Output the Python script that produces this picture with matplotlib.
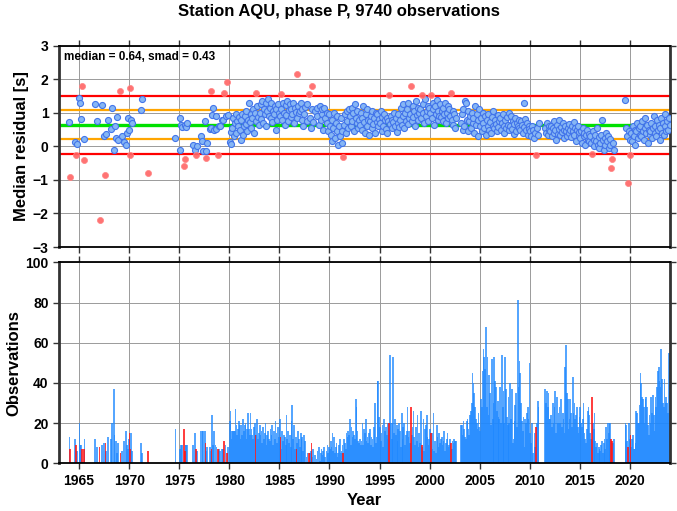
import numpy as np
import matplotlib
matplotlib.use('Agg')
import matplotlib.pyplot as plt

N = None
FIRST_YEAR = 1964
MEDIAN = 0.64
SMAD = 0.43
STATION = 'AQU'
PHASE = 'P'
N_OBS = 9740

# observations per month, one row per year from 1964
counts = [
    [13, 7, 0, 0, 0, 0, 0, 12, 9, 6, 0, 0],
    [20, 9, 9, 7, 0, 7, 12, 0, 0, 0, 0, 0],
    [0, 0, 0, 0, 0, 0, 0, 12, 0, 8, 0, 0],
    [8, 0, 0, 9, 0, 10, 0, 10, 6, 0, 13, 0],
    [0, 0, 12, 20, 0, 37, 14, 0, 11, 5, 10, 0],
    [0, 5, 0, 6, 0, 11, 0, 0, 16, 9, 7, 12],
    [15, 7, 15, 6, 0, 0, 0, 0, 0, 0, 0, 0],
    [0, 0, 10, 5, 0, 0, 0, 0, 0, 0, 6, 0],
    [0, 0, 0, 0, 0, 0, 0, 0, 0, 0, 0, 0],
    [0, 0, 0, 0, 0, 0, 0, 0, 0, 0, 0, 0],
    [0, 0, 0, 0, 0, 0, 0, 17, 0, 0, 0, 0],
    [7, 7, 9, 9, 0, 17, 6, 9, 9, 9, 0, 0],
    [0, 0, 0, 0, 9, 0, 15, 0, 7, 6, 0, 0],
    [0, 16, 0, 16, 16, 0, 16, 10, 6, 8, 0, 0],
    [8, 6, 7, 24, 9, 16, 0, 9, 8, 0, 7, 7],
    [6, 0, 0, 7, 7, 11, 0, 9, 0, 5, 8, 0],
    [21, 26, 12, 16, 16, 16, 16, 27, 19, 14, 17, 21],
    [19, 12, 19, 14, 22, 16, 19, 20, 12, 17, 25, 17],
    [14, 25, 17, 14, 12, 18, 20, 14, 14, 22, 12, 15],
    [19, 14, 16, 10, 18, 12, 15, 20, 9, 14, 16, 12],
    [11, 17, 14, 19, 9, 16, 12, 21, 15, 10, 18, 13],
    [22, 13, 7, 16, 11, 14, 13, 9, 24, 12, 16, 10],
    [14, 8, 21, 29, 12, 19, 7, 13, 7, 10, 16, 12],
    [8, 15, 12, 13, 6, 14, 11, 0, 3, 5, 0, 5],
    [5, 6, 10, 3, 7, 0, 4, 0, 2, 6, 0, 8],
    [1, 5, 7, 4, 6, 8, 3, 0, 6, 9, 5, 8],
    [7, 11, 8, 15, 6, 13, 5, 8, 10, 3, 5, 9],
    [12, 5, 6, 9, 5, 12, 10, 7, 15, 13, 16, 14],
    [22, 9, 18, 13, 16, 14, 12, 32, 28, 16, 11, 10],
    [12, 9, 11, 20, 9, 17, 15, 22, 11, 13, 10, 15],
    [17, 9, 13, 12, 8, 18, 30, 10, 13, 41, 41, 23],
    [18, 11, 15, 19, 8, 22, 16, 18, 14, 12, 20, 20],
    [54, 20, 12, 20, 53, 15, 22, 14, 19, 11, 17, 20],
    [16, 8, 25, 12, 18, 20, 9, 14, 16, 28, 13, 16],
    [10, 28, 14, 18, 26, 13, 9, 18, 11, 24, 8, 15],
    [10, 26, 9, 8, 22, 6, 17, 19, 24, 13, 9, 12],
    [17, 15, 15, 7, 25, 6, 11, 5, 19, 13, 8, 15],
    [10, 12, 13, 9, 11, 16, 6, 10, 12, 15, 8, 9],
    [12, 10, 7, 11, 10, 12, 11, 11, 0, 0, 0, 0],
    [0, 19, 19, 14, 21, 17, 13, 12, 21, 22, 17, 14],
    [24, 26, 30, 45, 40, 35, 28, 22, 20, 17, 25, 18],
    [16, 32, 28, 46, 57, 53, 47, 68, 28, 53, 24, 44],
    [35, 19, 52, 22, 30, 53, 41, 38, 26, 31, 23, 22],
    [38, 20, 54, 28, 36, 20, 53, 37, 23, 19, 33, 20],
    [40, 22, 37, 10, 12, 21, 29, 35, 18, 81, 38, 51],
    [45, 30, 21, 16, 23, 8, 22, 20, 25, 28, 22, 50],
    [15, 10, 20, 5, 0, 15, 8, 18, 20, 31, 28, 0],
    [0, 0, 0, 0, 0, 0, 37, 30, 36, 28, 35, 22],
    [22, 24, 18, 30, 20, 28, 36, 15, 33, 20, 25, 28],
    [20, 32, 18, 25, 22, 15, 48, 59, 35, 32, 17, 22],
    [32, 25, 18, 43, 25, 30, 22, 24, 28, 18, 15, 23],
    [28, 20, 18, 22, 30, 15, 12, 10, 17, 26, 28, 24],
    [15, 12, 33, 20, 17, 25, 11, 8, 10, 5, 8, 7],
    [6, 9, 11, 5, 10, 12, 7, 18, 12, 20, 15, 20],
    [20, 12, 11, 10, 12, 0, 0, 0, 0, 0, 0, 0],
    [0, 0, 0, 0, 0, 0, 20, 19, 11, 8, 20, 12],
    [14, 8, 12, 14, 7, 7, 10, 26, 25, 20, 20, 29],
    [45, 40, 33, 32, 28, 20, 32, 33, 28, 19, 14, 24],
    [20, 33, 25, 34, 24, 16, 33, 28, 38, 46, 48, 41],
    [38, 57, 42, 30, 28, 42, 30, 33, 30, 25, 55, 52],
]

# monthly median residuals [s], None where there is no data
residuals = [
    [0.73, -0.90, N, N, N, N, N, 0.14, -0.25, 0.06, N, N],
    [1.44, 1.28, 0.81, 1.80, N, -0.41, 0.23, N, N, N, N, N],
    [N, N, N, N, N, N, N, 1.26, N, 0.76, N, N],
    [-2.19, N, N, 1.22, N, 0.30, N, -0.85, 0.36, N, 0.80, N],
    [N, N, 0.52, 1.14, N, -0.12, 0.62, N, 0.25, 0.88, 0.20, N],
    [N, 1.64, N, 0.30, N, 0.12, N, N, 0.05, 0.40, 0.84, 0.50],
    [1.75, -0.25, 0.80, 0.70, N, N, N, N, N, N, N, N],
    [N, N, 1.07, 1.40, N, N, N, N, N, N, -0.78, N],
    [N, N, N, N, N, N, N, N, N, N, N, N],
    [N, N, N, N, N, N, N, N, N, N, N, N],
    [N, N, N, N, N, N, N, 0.26, N, N, N, N],
    [-0.12, 0.83, 0.65, 0.57, N, -0.59, -0.38, 0.63, 0.58, 0.70, N, N],
    [N, N, N, N, 0.05, N, -0.10, N, -0.25, 0.00, N, N],
    [N, 0.30, N, 0.17, -0.13, N, 0.77, -0.36, -0.14, 0.10, N, N],
    [0.51, 0.55, 1.64, 0.93, 1.15, 0.48, N, 0.52, 0.90, N, -0.25, 0.62],
    [0.60, N, N, 0.80, 0.78, 1.60, N, 0.90, N, 1.92, 0.92, N],
    [0.13, 0.42, 0.06, 0.55, 0.85, 0.30, 0.70, 0.95, 0.40, 0.75, 0.62, 0.88],
    [0.50, 0.20, 0.78, 0.95, 0.35, 0.62, 0.90, 0.68, 1.05, 0.45, 0.80, 1.30],
    [0.72, 0.95, 0.55, 0.85, 1.10, 0.40, 0.98, 1.58, 0.75, 1.20, 0.88, 0.65],
    [1.00, 1.25, 0.82, 1.35, 0.70, 1.10, 0.95, 1.28, 0.60, 1.05, 1.40, 0.90],
    [1.15, 0.85, 1.30, 0.72, 1.05, 0.95, 1.20, 0.50, 1.10, 0.80, 1.25, 0.98],
    [0.90, 1.56, 1.12, 0.78, 1.30, 1.00, 0.65, 1.22, 0.92, 1.35, 0.75, 1.08],
    [1.25, 0.88, 1.10, 0.95, 1.28, 0.70, 1.15, 1.02, 2.16, 0.85, 1.20, 0.98],
    [1.05, 1.30, 0.80, 1.12, 0.60, 0.95, 1.18, N, 0.75, 1.25, N, 1.55],
    [0.85, 0.55, 1.81, 1.10, 0.72, N, 1.05, N, 0.90, 1.15, N, 0.65],
    [1.20, 0.78, 0.95, 1.10, 0.50, 1.15, 0.85, N, 1.00, 0.70, 0.45, 0.95],
    [0.60, 0.35, 0.80, 0.15, 0.55, 1.00, 0.25, 0.70, 0.45, 0.90, 0.05, 0.62],
    [0.30, 0.85, 0.45, 0.10, -0.32, 0.65, 0.95, 0.40, 1.05, 0.75, 0.55, 1.10],
    [0.90, 0.60, 1.15, 0.75, 0.98, 0.45, 1.25, 0.85, 0.70, 1.05, 0.55, 0.80],
    [0.65, 1.00, 0.50, 0.85, 1.20, 0.72, 0.40, 0.95, 0.60, 1.10, 0.80, 0.35],
    [0.75, 0.90, 0.55, 1.05, 0.68, 0.85, 0.40, 1.00, 0.72, 0.95, 0.60, 0.82],
    [0.70, 1.05, 0.45, 0.88, 0.62, 0.95, 0.78, 0.52, 0.85, 0.40, 0.75, 1.52],
    [0.68, 0.90, 0.55, 0.80, 0.72, 1.00, 0.60, 0.85, 0.42, 0.95, 0.70, 0.58],
    [0.80, 1.15, 0.65, 0.90, 1.25, 0.55, 0.98, 0.75, 1.10, 0.68, 1.30, 0.85],
    [0.95, 1.80, 0.75, 1.20, 0.88, 1.05, 0.60, 1.35, 0.92, 1.15, 0.80, 1.00],
    [1.10, 0.85, 1.52, 0.98, 1.25, 0.70, 1.40, 0.90, 1.05, 1.20, 0.75, 1.15],
    [1.00, 1.52, 0.85, 1.30, 1.10, 0.65, 1.20, 0.95, 1.38, 0.80, 1.05, 0.90],
    [1.25, 0.88, 1.05, 0.75, 1.15, 0.95, 1.30, 0.70, 1.00, 1.20, 0.85, 1.10],
    [0.90, 1.58, 0.80, 1.05, 0.65, 0.95, 0.55, 0.85, N, N, N, N],
    [N, 0.70, 0.95, 0.50, 1.10, 0.60, 1.35, 1.30, 0.80, 0.45, 1.05, 0.75],
    [0.90, 0.55, 1.00, 0.70, 0.85, 0.40, 1.20, 0.65, 0.95, 0.30, 0.80, 1.10],
    [0.60, 0.85, 0.45, 1.00, 0.70, 0.55, 0.90, 0.35, 0.78, 0.62, 0.95, 0.50],
    [0.72, 0.40, 0.88, 0.60, 1.05, 0.55, 0.80, 0.68, 0.45, 0.92, 0.58, 0.75],
    [0.85, 0.50, 0.70, 0.95, 0.62, 0.40, 0.78, 0.55, 0.88, 0.65, 1.00, 0.48],
    [0.60, 0.90, 0.52, 0.75, 0.38, 0.68, 0.85, 0.45, 0.70, 0.62, 0.55, 0.80],
    [0.50, 0.75, 0.65, 0.40, 1.30, 0.58, 0.82, 0.48, 0.70, 0.35, 0.60, 0.52],
    [0.45, 0.30, 0.62, 0.50, N, 0.25, 0.40, -0.25, 0.55, 0.35, 0.70, N],
    [N, N, N, N, N, N, 0.55, 0.40, 0.70, 0.35, 0.60, 0.48],
    [0.45, 0.62, 0.30, 0.55, 0.75, 0.40, 0.50, 0.20, 0.65, 0.38, 0.52, 0.80],
    [0.35, 0.58, 0.42, 0.70, 0.25, 0.50, 0.62, 0.45, 0.30, 0.55, 0.68, 0.40],
    [0.50, 0.28, 0.60, 0.45, 0.72, 0.35, 0.55, 0.15, 0.48, 0.62, 0.30, 0.42],
    [0.25, 0.45, 0.10, 0.55, 0.30, 0.40, 0.05, 0.35, 0.50, 0.20, 0.38, 0.15],
    [0.30, 0.10, -0.24, 0.45, 0.20, 0.00, 0.35, 0.15, 0.55, 0.05, 0.28, -0.05],
    [0.10, 0.35, 0.80, 0.20, -0.10, 0.25, 0.05, 0.40, 0.15, 0.30, -0.05, 0.22],
    [0.05, -0.65, -0.39, 0.10, -0.12, N, N, N, N, N, N, N],
    [N, N, N, N, N, N, 1.39, 0.55, 0.30, -1.10, 0.45, 0.20],
    [-0.27, 0.40, 0.15, 0.60, 0.30, 0.50, 0.05, 0.45, 0.70, 0.25, 0.55, 0.35],
    [0.60, 0.30, 0.75, 0.45, 0.20, 0.55, 0.85, 0.40, 0.65, 0.10, 0.50, 0.35],
    [0.45, 0.70, 0.25, 0.55, 0.90, 0.40, 0.60, 0.30, 0.80, 0.50, 0.65, 0.20],
    [0.55, 0.85, 0.40, 0.70, 0.35, 0.95, 0.60, 0.45, 0.75, 0.50, 0.85, 0.65],
]

plt.rcParams['font.family'] = ['Liberation Sans', 'DejaVu Sans']
plt.rcParams['font.weight'] = 'bold'

lo = MEDIAN - 2 * SMAD
hi = MEDIAN + 2 * SMAD

# flatten to monthly arrays
t, n, r = [], [], []
for i, (row_n, row_r) in enumerate(zip(counts, residuals)):
    for m in range(12):
        if row_n[m] > 0 or row_r[m] is not None:
            t.append(FIRST_YEAR + i + (m + 0.5) / 12)
            n.append(row_n[m])
            r.append(np.nan if row_r[m] is None else row_r[m])
t = np.array(t)
n = np.array(n)
r = np.array(r)
bad = (r < lo) | (r > hi)

fig = plt.figure(figsize=(6.77, 5.11), dpi=100)
ax1 = fig.add_axes([0.0872, 0.5166, 0.9025, 0.394])
ax2 = fig.add_axes([0.0872, 0.0933, 0.9025, 0.3934])

fig.suptitle(f'Station {STATION}, phase {PHASE}, {N_OBS} observations',
             fontsize=12, fontweight='bold', y=0.993)

# residuals
ax1.axhline(MEDIAN, color='#00e000', lw=2.4, zorder=2)
ax1.axhline(MEDIAN + SMAD, color='orange', lw=1.6, zorder=2)
ax1.axhline(MEDIAN - SMAD, color='orange', lw=1.6, zorder=2)
ax1.axhline(hi, color='red', lw=1.6, zorder=2)
ax1.axhline(lo, color='red', lw=1.6, zorder=2)
ok = ~bad & ~np.isnan(r)
ax1.scatter(t[ok], r[ok], s=19, facecolor='#86b6f4', edgecolor='#4274ea',
            linewidth=0.8, zorder=3)
ax1.scatter(t[bad], r[bad], s=19, facecolor='#ff6464', edgecolor='#ff8484',
            linewidth=0.6, alpha=0.9, zorder=3)
ax1.set_ylim(-3, 3)
ax1.set_yticks(range(-3, 4))
ax1.set_ylabel('Median residual [s]', fontsize=12, fontweight='bold', labelpad=3)
ax1.text(0.008, 0.975, f'median = {MEDIAN:.2f}, smad = {SMAD:.2f}',
         transform=ax1.transAxes, ha='left', va='top', fontsize=8.5, fontweight='bold')

# observation counts
ax2.bar(t[~bad], n[~bad], width=0.17, color='#1e88ff', alpha=0.75, linewidth=0, zorder=2)
ax2.bar(t[bad], n[bad], width=0.17, color='#ff1010', alpha=0.8, linewidth=0, zorder=2)
ax2.set_ylim(0, 100)
ax2.set_yticks(range(0, 101, 20))
ax2.set_ylabel('Observations', fontsize=12, fontweight='bold', labelpad=3)
ax2.set_xlabel('Year', fontsize=12, fontweight='bold', labelpad=4)

for ax in (ax1, ax2):
    ax.set_xlim(1963.0, 2024.0)
    ax.set_xticks(range(1965, 2021, 5))
    ax.grid(True, color='#9a9a9a', lw=0.7, zorder=0)
    ax.set_axisbelow(True)
    ax.tick_params(direction='out', length=4, width=1, top=True, right=True,
                   labelsize=10, color='#333333')
    for s in ['top', 'bottom']:
        ax.spines[s].set_linewidth(1.3)
    for s in ['left', 'right']:
        ax.spines[s].set_linewidth(2.0)
        ax.spines[s].set_color('#333333')
    for lab in ax.get_xticklabels() + ax.get_yticklabels():
        lab.set_fontweight('bold')
ax1.tick_params(labelbottom=False)
fig.align_ylabels([ax1, ax2])

fig.savefig('out.png', dpi=100)
